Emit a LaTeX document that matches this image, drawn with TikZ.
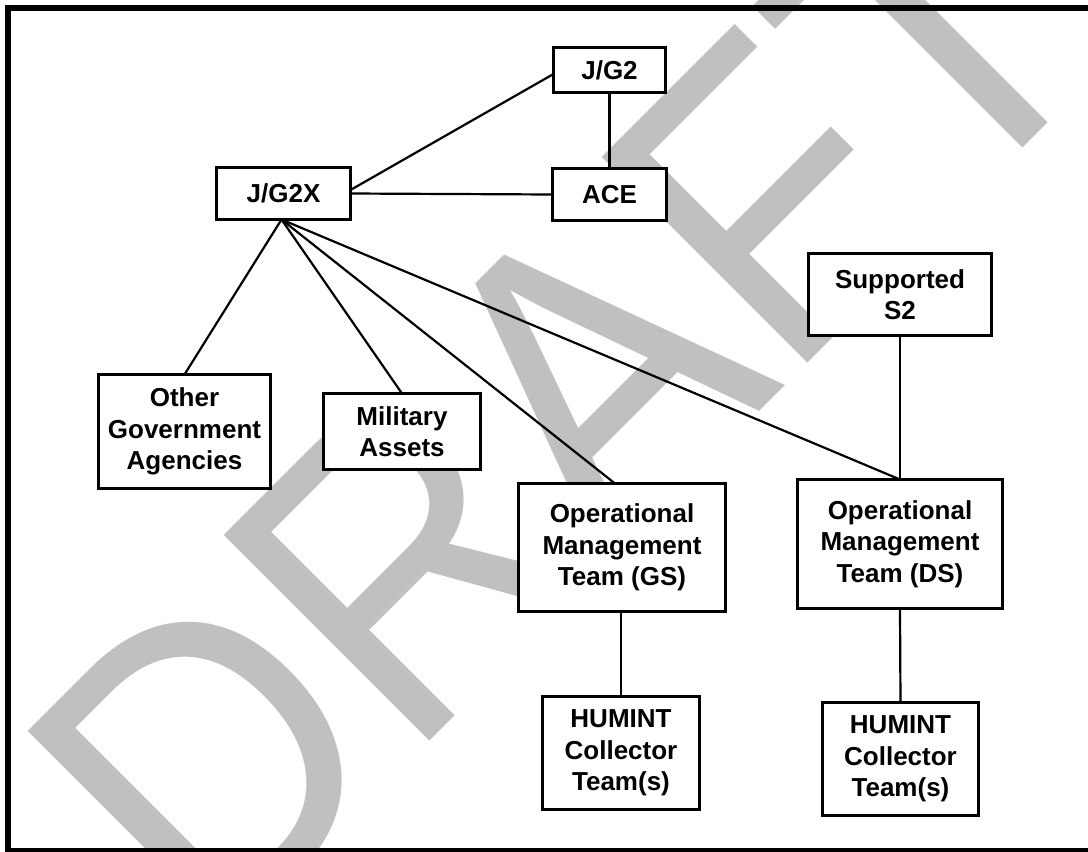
\documentclass[tikz,border=0pt]{standalone}
\usepackage{fontspec}
\setmainfont{Liberation Sans}
\usepackage{graphicx}
\definecolor{wmgray}{RGB}{192,192,192}
\begin{document}
\begin{tikzpicture}[x=1pt,y=-1pt,
  orgbox/.style={draw, line width=3pt, fill=white, align=center, inner sep=0pt, outer sep=0pt,
    font=\bfseries\fontsize{26}{31.5}\selectfont},
  link/.style={line width=2.2pt}]
\useasboundingbox (0,0) rectangle (1088,852);
\clip (0,0) rectangle (1088,852);
% watermark
\node[rotate=45, anchor=base west, inner sep=0pt, text=wmgray] (wm) at (211,960)
  {\scalebox{0.91}[1]{\fontsize{423}{423}\selectfont DRAFT}};
% frame
\draw[line width=6pt] (1100,8) -- (8,8) -- (8,851) -- (1100,851);
% boxes
\node[orgbox, minimum width=112pt, minimum height=45pt] (jg2) at (609.5,70) {J/G2};
\node[orgbox, minimum width=114pt, minimum height=52pt] (ace) at (609.5,194.5) {ACE};
\node[orgbox, minimum width=134pt, minimum height=52pt] (jg2x) at (283.5,193.5) {J/G2X};
\node[orgbox, minimum width=183pt, minimum height=82pt] (s2) at (900,294.5) {Supported\\S2};
\node[orgbox, minimum width=172pt, minimum height=114pt] (ogov) at (184.5,431.5) {Other\\Government\\Agencies};
\node[orgbox, minimum width=157pt, minimum height=76pt] (mil) at (402,431.5) {Military\\Assets};
\node[orgbox, minimum width=207pt, minimum height=128pt] (omtgs) at (622,547.5) {Operational\\Management\\Team (GS)};
\node[orgbox, minimum width=205pt, minimum height=129pt] (omtds) at (900,544) {Operational\\Management\\Team (DS)};
\node[orgbox, minimum width=157pt, minimum height=113pt] (huml) at (621,753) {HUMINT\\Collector\\Team(s)};
\node[orgbox, minimum width=156pt, minimum height=113pt] (humr) at (900.5,759) {HUMINT\\Collector\\Team(s)};
% connectors
\draw[link] ([yshift=3.5pt]jg2x.east) -- ([yshift=-4pt]jg2.west);
\draw[link] (jg2x.east) -- (ace.west);
\draw[link] (jg2.south) -- (ace.north);
\coordinate (hub) at ([xshift=-2pt]jg2x.south);
\draw[link] (hub) -- (ogov.north);
\draw[link] (hub) -- (mil.north);
\draw[link] (hub) -- ([xshift=-7pt]omtgs.north);
\draw[link] (hub) -- (omtds.north);
\draw[link] (s2.south) -- (omtds.north);
\draw[link] (huml.north |- omtgs.south) -- (huml.north);
\draw[link] (omtds.south) -- (humr.north);
\end{tikzpicture}
\end{document}
